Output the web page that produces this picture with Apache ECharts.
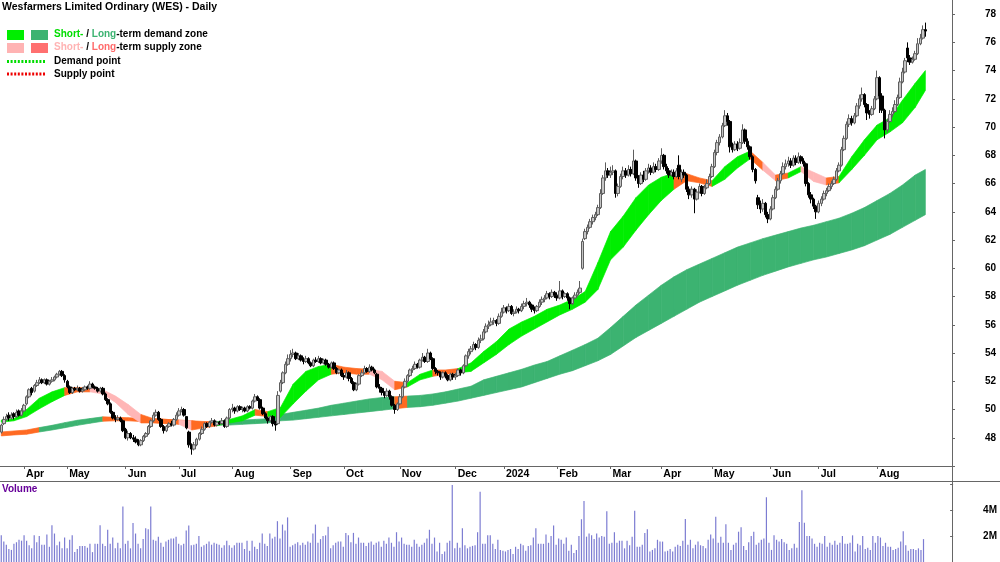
<!DOCTYPE html>
<html><head><meta charset="utf-8">
<script src="https://cdn.jsdelivr.net/npm/echarts@6/dist/echarts.min.js"></script>
<style>html,body{margin:0;padding:0;background:#fff}#c{width:1000px;height:562px}</style>
</head><body><div id="c"></div>
<script>
// ---------- DATA ----------
const startDay = [2023, 3, 21];
const endDay = [2024, 8, 27];
const holidays = ['2023-04-07','2023-04-10','2023-04-25','2023-06-12','2023-12-25','2023-12-26','2024-01-01','2024-01-26','2024-03-29','2024-04-01','2024-04-25','2024-06-10'];
const padSlots = 11;
const monthNames = ['Jan','Feb','Mar','Apr','May','Jun','Jul','Aug','Sep','Oct','Nov','Dec'];
const priceTicks = [48,50,52,54,56,58,60,62,64,66,68,70,72,74,76,78];
const volumeTicks = [2,4];

// [open, close, low, high]
const candles = [
[48.4,48.9,48.3,49.0],[49.0,49.3,48.9,49.5],[49.3,49.5,49.2,49.7],[49.6,49.4,49.2,49.8],[49.4,49.6,49.3,49.8],[49.7,49.5,49.3,49.8],[49.5,49.8,49.4,50.0],[49.9,49.6,49.5,50.0],[49.6,49.9,49.5,50.1],
[49.9,50.3,49.8,50.4],[50.4,50.9,50.3,51.0],[50.9,51.4,50.8,51.5],[51.5,51.2,51.0,51.6],[51.3,51.7,51.2,51.8],[51.7,51.9,51.6,52.1],[51.9,52.1,51.8,52.3],[52.1,51.9,51.8,52.2],[51.9,52.1,51.8,52.2],[52.1,51.8,51.7,52.2],[51.8,52.0,51.7,52.1],[52.0,52.1,51.9,52.3],[52.1,52.3,52.0,52.4],[52.3,52.5,52.2,52.6],[52.5,52.7,52.4,52.8],[52.7,52.4,52.3,52.8],[52.4,52.1,51.9,52.5],
[52.0,51.6,51.5,52.1],[51.6,51.2,51.1,51.7],[51.2,51.5,51.1,51.6],[51.5,51.4,51.3,51.6],[51.4,51.5,51.3,51.7],[51.5,51.3,51.2,51.6],[51.3,51.4,51.2,51.6],[51.4,51.6,51.3,51.7],[51.6,51.5,51.4,51.7],[51.5,51.8,51.4,52.0],[51.8,51.6,51.5,51.9],[51.6,51.5,51.4,51.7],[51.5,51.3,51.2,51.6],[51.3,51.5,51.2,51.6],[51.5,51.1,51.0,51.6],[51.1,50.7,50.6,51.2],[50.7,50.4,50.3,50.8],[50.4,49.8,49.7,50.5],[49.8,49.4,49.3,49.9],[49.4,49.3,49.1,49.6],[49.3,49.4,49.2,49.6],[49.4,49.2,49.1,49.5],[49.2,48.5,48.4,49.3],
[48.6,48.0,47.9,48.7],[48.0,48.3,47.8,48.5],[48.3,48.0,47.9,48.4],[48.0,47.9,47.7,48.2],[47.9,47.7,47.6,48.1],[47.7,47.5,47.4,47.9],[47.5,47.8,47.4,47.9],[47.8,48.1,47.7,48.2],[48.1,48.3,48.0,48.4],[48.3,48.8,48.2,48.9],[48.8,49.2,48.7,49.3],[49.2,49.6,49.1,49.8],[49.6,49.8,49.5,50.0],[49.8,49.3,49.2,49.9],[49.3,48.8,48.7,49.4],[48.8,48.5,48.3,48.9],[48.5,48.8,48.4,48.9],[48.8,49.0,48.7,49.1],[49.0,48.9,48.8,49.2],[48.9,49.3,48.8,49.4],[49.3,49.6,49.2,49.8],
[49.6,49.9,49.5,50.1],[49.9,50.0,49.8,50.2],[50.0,49.6,49.5,50.1],[49.5,48.7,48.6,49.5],[48.4,47.5,47.3,48.5],[47.5,47.2,46.8,47.6],[47.2,47.5,47.1,47.7],[47.5,47.9,47.4,48.0],[47.9,48.3,47.8,48.4],[48.3,48.6,48.2,48.8],[48.6,49.0,48.5,49.1],[49.0,48.8,48.7,49.1],[48.8,49.1,48.7,49.2],[49.1,49.2,49.0,49.4],[49.2,48.9,48.8,49.3],[48.9,49.1,48.8,49.2],[49.1,49.0,48.9,49.2],[49.0,49.2,48.9,49.4],[49.2,48.8,48.7,49.3],[48.8,49.4,48.7,49.5],[49.4,50.0,49.3,50.1],
[50.0,50.1,49.8,50.4],[50.1,49.9,49.7,50.2],[49.9,50.2,49.8,50.3],[50.2,50.0,49.9,50.3],[50.0,50.1,49.8,50.2],[50.1,49.9,49.8,50.2],[49.9,50.2,49.8,50.3],[50.2,50.1,50.0,50.3],[50.1,50.6,50.0,50.7],[50.6,50.9,50.5,51.1],[50.9,50.7,50.6,51.0],[50.7,50.1,50.0,50.8],[50.1,49.7,49.6,50.2],[49.7,49.4,49.3,49.8],[49.4,49.2,49.0,49.5],[49.2,49.5,49.1,49.6],[49.5,49.0,48.8,49.6],[49.0,48.9,48.5,49.2],[49.0,51.0,48.9,51.3],[51.3,51.9,51.2,52.1],[51.9,52.6,51.8,52.7],[52.6,53.2,52.5,53.4],[53.2,53.6,53.1,53.9],
[53.6,53.9,53.4,54.2],[53.9,54.0,53.7,54.3],[54.0,53.6,53.5,54.1],[53.6,53.8,53.5,54.0],[53.8,53.5,53.4,53.9],[53.5,53.4,53.2,53.7],[53.4,53.6,53.3,53.8],[53.6,53.3,53.2,53.7],[53.3,53.1,53.0,53.4],[53.1,53.5,53.0,53.6],[53.5,53.4,53.3,53.7],[53.4,53.6,53.3,53.8],[53.6,53.3,53.2,53.7],[53.3,53.5,53.2,53.6],[53.5,53.2,53.1,53.6],[53.2,53.0,52.9,53.3],[53.0,53.3,52.9,53.4],[53.3,52.9,52.8,53.4],[52.9,52.6,52.5,53.0],[52.6,52.8,52.5,52.9],[52.8,52.4,52.3,52.9],
[52.4,52.3,52.1,52.6],[52.3,52.6,52.2,52.8],[52.6,52.2,52.0,52.7],[52.2,51.9,51.8,52.3],[51.9,51.4,51.3,52.0],[51.4,51.8,51.3,51.9],[51.8,52.4,51.7,52.5],[52.4,52.6,52.3,52.8],[52.6,52.9,52.5,53.1],[52.9,52.7,52.6,53.0],[52.7,53.0,52.6,53.2],[53.0,52.8,52.7,53.1],[52.8,52.6,52.5,52.9],[52.5,51.6,51.5,52.6],[51.6,51.5,51.2,51.8],[51.5,51.2,51.0,51.6],[51.2,51.0,50.8,51.3],[51.0,51.3,50.9,51.5],[51.3,50.9,50.7,51.4],[50.9,50.3,50.2,51.0],[50.3,50.0,49.7,50.4],[50.0,50.4,49.9,50.5],
[50.4,50.9,50.3,51.1],[50.9,51.6,50.8,51.7],[51.6,52.0,51.5,52.2],[52.0,52.4,51.9,52.5],[52.4,52.8,52.3,52.9],[52.8,52.9,52.6,53.1],[52.9,53.2,52.8,53.4],[53.2,53.0,52.9,53.3],[53.0,53.5,52.9,53.6],[53.5,53.7,53.4,54.0],[53.7,53.4,53.3,53.8],[53.4,54.0,53.3,54.3],[54.0,53.6,53.5,54.1],[53.6,52.9,52.8,53.7],[52.9,52.7,52.5,53.0],[52.7,52.6,52.4,52.8],[52.6,52.3,52.1,52.7],[52.3,52.6,52.2,52.7],[52.6,52.4,52.2,52.7],[52.4,52.1,52.0,52.5],[52.1,52.5,52.0,52.6],[52.5,52.3,52.1,52.6],
[52.3,52.4,52.1,52.6],[52.4,52.8,52.3,52.9],[52.8,52.6,52.4,52.9],[52.6,53.1,52.5,53.2],[53.1,53.8,53.0,53.9],[53.8,54.1,53.6,54.3],[54.1,54.3,53.9,54.5],[54.3,54.6,54.2,54.8],[54.6,54.4,54.2,54.7],[54.4,54.9,54.3,55.1],[54.9,55.0,54.7,55.3],[55.0,55.5,54.9,55.7],[55.5,55.9,55.4,56.1],[55.9,56.0,55.7,56.3],[56.0,56.2,55.9,56.5],[56.2,56.3,56.0,56.5],[56.3,56.1,55.9,56.4],[56.1,56.6,56.0,56.8],[56.6,56.9,56.5,57.2],
[56.9,57.2,56.8,57.4],[57.2,57.0,56.8,57.3],[57.0,57.3,56.9,57.5],[57.3,56.8,56.7,57.4],[56.8,56.9,56.6,57.1],[56.9,57.1,56.8,57.3],[57.1,57.0,56.8,57.2],[57.0,57.3,56.9,57.5],[57.3,57.5,57.1,57.7],[57.5,57.6,57.3,57.9],[57.6,57.4,57.2,57.7],[57.4,57.1,56.9,57.5],[57.1,57.0,56.8,57.3],[57.0,57.3,56.9,57.4],[57.3,57.6,57.2,57.8],[57.6,57.8,57.4,58.0],[57.8,57.9,57.6,58.1],[57.9,58.2,57.8,58.4],[58.2,58.0,57.8,58.3],[58.0,58.3,57.9,58.5],[58.3,58.1,57.9,58.4],[58.1,57.9,57.7,58.3],
[57.9,58.4,57.8,59.1],[58.4,58.0,57.8,58.5],[58.0,58.2,57.9,58.3],[58.2,57.9,57.7,58.3],[57.9,57.5,57.1,58.0],[57.5,57.9,57.4,58.0],[57.9,58.1,57.8,58.3],[58.1,58.3,58.0,58.5],[58.3,58.6,58.2,59.1],[60.0,61.9,59.9,62.1],[62.1,62.6,62.0,62.8],[62.6,62.9,62.4,63.1],[62.9,63.3,62.8,63.5],[63.3,63.6,63.1,63.8],[63.6,63.8,63.4,64.0],[63.8,64.3,63.7,64.5],[64.3,65.3,64.2,65.6],[65.3,66.4,65.2,66.6],[66.4,66.9,66.2,67.5],[66.9,66.6,66.4,67.1],[66.6,66.8,66.4,67.2],
[66.8,66.9,66.6,67.3],[66.9,65.3,65.0,67.0],[65.3,65.8,65.1,66.0],[65.8,66.5,65.7,66.7],[66.5,66.9,66.3,67.2],[66.9,66.6,66.4,67.1],[66.6,67.0,66.5,67.3],[67.0,66.7,66.5,67.2],[66.7,67.6,66.6,68.4],[67.6,66.4,66.2,67.7],[66.4,66.0,65.7,66.6],[66.0,66.6,65.9,66.8],[66.6,66.3,66.1,66.9],[66.3,66.9,66.2,67.1],[66.9,67.1,66.7,67.4],[67.1,66.8,66.6,67.3],[66.8,67.2,66.7,67.5],[67.2,67.0,66.8,67.4],[67.0,67.6,66.9,67.8],[67.6,68.0,67.4,68.5],
[68.0,67.2,67.0,68.1],[67.2,66.9,66.7,67.4],[66.9,66.6,66.4,67.1],[66.6,66.8,66.5,67.0],[66.8,66.5,66.3,67.0],[66.5,66.9,66.4,67.1],[67.3,66.5,66.3,68.0],[66.3,66.8,66.1,67.0],[66.8,66.6,66.4,67.0],[66.6,65.6,65.4,66.7],[65.6,65.2,64.9,65.8],[65.2,65.6,65.0,65.8],[65.6,64.9,63.9,65.7],[64.9,65.4,64.8,65.6],[65.4,65.8,65.3,66.0],[65.8,65.3,65.1,65.9],[65.3,65.7,65.2,65.9],[65.7,66.0,65.6,66.3],[66.0,66.5,65.9,66.7],[66.5,67.2,66.4,67.4],
[67.2,68.2,67.1,68.4],[68.2,68.9,68.0,69.1],[68.9,69.3,68.7,69.5],[69.3,70.1,69.2,70.3],[70.1,70.8,70.0,71.2],[70.8,70.4,70.1,71.0],[70.4,68.6,68.2,70.5],[68.6,68.4,68.2,68.9],[68.4,68.8,68.3,69.0],[68.8,68.5,68.3,69.0],[68.5,68.9,68.4,69.2],[68.9,69.8,68.8,70.2],[69.8,69.0,68.8,69.9],[69.0,68.6,68.4,69.2],[68.6,67.9,67.7,68.7],[67.9,67.0,66.8,68.0],[67.0,66.2,66.0,67.1],[65.0,64.5,64.2,65.2],[64.5,64.2,63.9,64.8],[64.2,64.6,64.0,64.9],[64.6,63.8,63.6,64.7],[63.8,63.5,63.2,64.0],[63.5,64.2,63.4,64.4],
[64.2,65.0,64.1,65.2],[65.0,65.6,64.9,65.8],[65.6,66.2,65.5,66.4],[66.2,66.7,66.0,66.9],[66.7,67.2,66.6,67.5],[67.2,67.4,67.0,67.7],[67.4,67.6,67.2,67.9],[67.6,67.3,67.1,67.8],[67.3,67.8,67.2,68.0],[67.8,67.5,67.3,68.0],[67.5,67.9,67.4,68.2],[67.9,67.6,67.4,68.0],[67.6,67.4,67.2,67.8],[67.4,66.0,65.8,67.5],[66.0,65.2,65.0,66.1],[65.2,64.9,64.6,65.4],[64.9,64.4,64.2,65.0],[64.4,64.0,63.5,64.5],[64.0,64.6,63.9,64.8],
[64.6,64.9,64.4,65.1],[64.9,65.3,64.8,65.5],[65.3,65.5,65.1,65.7],[65.5,65.8,65.4,66.0],[65.8,66.0,65.6,66.2],[66.0,66.3,65.9,66.5],[66.3,66.9,66.2,67.1],[66.9,67.3,66.8,67.5],[67.3,68.4,67.2,68.6],[68.4,69.2,68.3,69.4],[69.2,70.2,69.1,70.4],[70.2,70.6,70.0,70.9],[70.6,70.3,70.1,70.8],[70.3,70.8,70.2,71.0],[70.8,71.5,70.7,71.7],[71.5,72.0,71.3,72.3],[72.0,72.3,71.8,72.8],[72.3,71.6,71.4,72.4],[71.6,71.0,70.5,71.7],[71.0,70.9,70.6,71.2],[70.9,71.3,70.8,71.5],[71.3,72.0,71.2,72.2],[72.0,73.5,71.9,74.0],
[73.5,72.2,71.0,73.6],[72.2,71.2,71.0,72.4],[71.2,69.8,69.2,71.3],[69.8,70.4,69.6,70.6],[70.4,70.9,70.3,71.2],[70.9,71.1,70.7,71.4],[71.1,71.6,71.0,71.9],[71.6,72.1,71.5,72.3],[72.1,73.2,72.0,73.5],[73.2,73.9,73.1,74.2],[73.9,74.7,73.8,74.9],[75.6,74.9,74.6,76.0],[74.9,74.6,74.4,75.1],[74.6,74.8,74.5,75.0],[74.8,75.2,74.7,75.4],[75.2,75.9,75.1,76.3],[75.9,76.3,75.8,76.6],[76.3,76.9,76.2,77.2],[76.9,76.8,76.4,77.4]
];

// daily volume, millions
const volumeM = [
2.05,1.57,1.33,1.0,0.93,1.4,1.52,1.71,1.64,2.05,1.64,1.29,1.05,2.05,1.52,2.0,1.33,1.33,2.12,1.17,
2.83,2.19,1.29,1.57,1.05,1.88,1.05,1.71,2.05,0.76,1.0,1.24,1.24,1.24,1.1,1.4,0.76,1.4,1.4,2.83,
1.4,1.24,2.48,1.4,1.88,1.05,1.48,1.05,4.26,1.4,1.64,1.05,3.0,2.19,1.4,1.05,1.76,2.6,2.52,4.26,
1.71,1.64,1.95,1.48,1.17,1.57,1.71,1.81,1.81,1.95,1.4,1.29,1.4,2.43,2.81,1.29,1.33,1.4,2.0,1.17,
1.29,1.4,1.57,1.33,1.48,1.4,1.33,1.1,1.29,1.64,1.29,1.1,1.29,1.48,1.48,1.48,1.0,1.64,0.86,1.64,
1.17,1.0,1.48,2.19,1.4,1.24,2.19,1.81,1.95,3.14,1.81,2.88,2.43,3.43,1.17,1.29,1.4,1.52,1.29,1.48,
1.33,1.57,1.48,2.19,2.88,1.48,1.76,2.0,2.05,2.71,1.05,1.29,1.48,1.57,1.57,1.17,2.24,2.05,1.52,2.24,
1.4,1.88,1.48,1.48,1.24,1.48,1.57,1.33,1.48,1.57,1.17,1.64,1.4,1.88,1.48,1.17,2.29,1.57,1.88,1.4,
1.33,1.33,1.17,1.71,1.4,1.17,1.33,1.48,1.81,2.48,1.4,1.88,0.81,1.48,0.62,0.81,1.48,1.64,5.93,
1.05,1.48,1.1,2.6,1.29,1.05,1.17,1.24,1.29,2.29,5.4,1.4,1.4,2.05,2.05,1.4,1.0,1.71,
0.93,0.86,0.81,0.93,1.0,0.62,1.17,1.0,1.4,1.29,0.86,1.24,1.29,1.88,2.6,1.4,1.4,1.4,2.12,1.48,
2.0,2.81,1.33,1.81,1.71,1.4,1.88,0.86,1.33,0.69,0.93,2.0,3.29,4.69,1.95,2.19,2.05,1.76,2.19,1.88,
2.0,1.95,3.9,1.4,1.48,2.29,1.48,1.64,1.64,1.05,1.64,1.29,1.95,3.95,1.17,1.17,1.33,2.24,2.52,
0.81,0.93,1.05,1.71,1.57,1.57,0.81,0.86,1.0,0.81,1.17,1.33,1.24,1.64,3.31,1.33,1.71,1.05,1.33,1.57,
1.29,1.24,1.05,1.71,2.12,1.81,3.48,1.48,1.95,1.48,2.9,1.48,0.93,1.33,1.48,2.33,2.67,1.24,0.93,1.52,
2.0,2.33,1.33,1.48,1.71,1.81,4.98,1.48,0.93,2.05,1.71,1.57,1.76,1.52,1.4,0.93,1.05,1.4,1.1,3.07,
5.52,3.02,2.0,2.0,1.81,1.4,1.17,1.48,1.4,2.0,1.17,1.48,1.33,1.64,1.33,1.48,2.0,1.4,1.4,1.48,
2.05,0.81,1.4,1.29,2.0,1.0,1.1,0.93,2.0,1.48,2.0,1.88,1.24,1.48,1.17,1.17,0.93,1.0,1.1,1.57,
2.36,1.29,0.86,1.0,1.0,0.93,1.05,0.93,1.76
];

// zone samples (trading-day index)
const bandIdx = [0,5,10,15,20,25,30,35,40,45,50,55,60,65,70,75,80,85,90,95,100,105,110,115,120,125,130,135,140,145,150,155,160,165,170,175,180,185,190,195,200,205,210,215,220,225,230,235,240,245,250,255,260,265,270,275,280,285,290,295,300,305,310,315,320,325,330,335,340,345,350,355,360,364];
const shortLo = [49.1,49.2,49.5,50.05,50.55,51.0,51.25,51.25,51.1,50.5,49.65,49.05,49.05,49.0,48.95,48.55,48.7,48.85,49.05,49.2,49.6,49.5,49.45,50.4,51.3,52.1,52.5,52.6,52.5,52.5,52.1,51.4,51.6,52.1,52.35,52.5,52.6,52.7,53.3,53.9,54.6,55.2,55.7,56.2,56.7,57.1,57.6,58.5,60.6,61.5,62.7,63.8,64.8,65.6,66.2,66.05,65.8,66.3,67.1,67.75,66.95,66.2,66.4,66.85,66.15,65.9,66.05,67.0,68.0,69.1,69.65,70.3,71.4,72.6];
const shortHi = [49.25,49.35,50.0,50.8,51.25,51.55,51.55,51.55,51.4,50.95,50.35,49.65,49.35,49.3,49.25,49.2,49.05,49.1,49.3,49.55,50.0,49.85,50.15,51.8,52.7,53.05,53.2,53.0,52.9,52.85,52.7,52.0,51.9,52.5,52.8,52.8,52.9,53.3,54.1,54.8,55.7,56.2,56.6,57.1,57.4,57.8,58.35,60.4,62.6,63.7,65.0,65.9,66.45,66.75,66.7,66.4,66.2,67.2,67.9,68.3,67.5,66.6,66.75,67.2,66.8,66.4,66.5,67.9,69.1,70.15,70.65,71.9,73.1,74.0];
// zone colour of the stretch ending at each sample: G demand, O supply (thin), P supply (pink)
const shortCol = ['G','G','G','G','G','G','O','O','P','P','P','P','O','O','O','P','O','O','G','G','G','O','G','G','G','G','G','O','O','O','P','P','O','G','G','O','O','G','G','G','G','G','G','G','G','G','G','G','G','G','G','G','G','G','O','O','O','G','G','G','O','P','O','G','P','P','O','G','G','G','G','G','G','G'];
const longLo = [48.13,48.2,48.25,48.41,48.55,48.71,48.88,49.03,49.17,49.2,49.2,49.15,49.1,49.05,49.0,48.95,48.9,48.9,48.9,48.95,49.0,49.05,49.2,49.25,49.35,49.45,49.55,49.65,49.75,49.85,49.95,50.05,50.15,50.2,50.3,50.45,50.6,50.8,51.0,51.2,51.4,51.6,51.9,52.2,52.5,52.75,53.1,53.45,53.9,54.5,55.1,55.6,56.1,56.6,57.1,57.6,58.0,58.4,58.8,59.15,59.5,59.8,60.1,60.35,60.6,60.8,61.05,61.3,61.6,62.0,62.4,62.9,63.4,63.8];
const longHi = [48.41,48.48,48.55,48.72,48.88,49.07,49.24,49.36,49.48,49.45,49.42,49.38,49.35,49.3,49.25,49.2,49.15,49.15,49.2,49.25,49.3,49.35,49.65,49.8,49.95,50.1,50.3,50.45,50.6,50.75,50.85,50.9,50.95,51.0,51.1,51.25,51.45,51.65,52.1,52.35,52.6,52.85,53.15,53.4,53.8,54.2,54.6,55.05,55.8,56.6,57.4,58.1,58.8,59.4,59.9,60.3,60.7,61.1,61.5,61.8,62.1,62.35,62.6,62.85,63.05,63.3,63.55,63.9,64.3,64.8,65.3,65.9,66.6,67.0];
// D demand (dark green), S supply (orange)
const longCol = ['S','S','S','S','D','D','D','D','D','S','S','S','S','S','S','S','S','S','D','D','D','D','D','D','D','D','D','D','D','D','D','D','S','D','D','D','D','D','D','D','D','D','D','D','D','D','D','D','D','D','D','D','D','D','D','D','D','D','D','D','D','D','D','D','D','D','D','D','D','D','D','D','D','D'];

// ---------- BUILD ----------
const zoneColors = {G:'#00ee00', O:'#ff6a22', P:'#ffb6b6', D:'#3cb371', S:'#ff6a22'};
const dates = [];
{
  let t = Date.UTC(startDay[0], startDay[1]-1, startDay[2]);
  const tEnd = Date.UTC(endDay[0], endDay[1]-1, endDay[2]);
  while (t <= tEnd) {
    const d = new Date(t); const wd = d.getUTCDay(); const s = d.toISOString().slice(0,10);
    if (wd !== 0 && wd !== 6 && holidays.indexOf(s) < 0) dates.push(s);
    t += 86400000;
  }
}
const cats = dates.slice();
for (let i = 0; i < padSlots; i++) cats.push('pad' + i);
const isMonthStart = i => i > 0 && i < dates.length && dates[i].slice(0,7) !== dates[i-1].slice(0,7);
const monthLabel = i => { const m = +dates[i].slice(5,7); return m === 1 ? dates[i].slice(0,4) : monthNames[m-1]; };

function bandData(lo, hi) {
  const out = [];
  for (let k = 0; k < bandIdx.length - 1; k++) out.push([bandIdx[k], lo[k], hi[k], bandIdx[k+1], lo[k+1], hi[k+1]]);
  return out;
}
function bandRender(cols) {
  return function (params, api) {
    const a = api.coord([api.value(0), api.value(1)]);
    const b = api.coord([api.value(3), api.value(4)]);
    const c = api.coord([api.value(3), api.value(5)]);
    const d = api.coord([api.value(0), api.value(2)]);
    const col = zoneColors[cols[params.dataIndex + 1]];
    return {type:'polygon', shape:{points:[a,b,c,d]}, style:{fill:col, stroke:col, lineWidth:0.7}};
  };
}

const FONT = 'Arial, "Liberation Sans", sans-serif';
const chart = echarts.init(document.getElementById('c'), null, {renderer:'canvas'});
chart.setOption({
  animation: false,
  backgroundColor: '#ffffff',
  grid: [
    {left: 0, top: 0, width: 952, height: 466},
    {left: 0, top: 481, width: 952, height: 86}
  ],
  xAxis: [
    {type:'category', gridIndex:0, data:cats, boundaryGap:true,
     axisLine:{show:true, lineStyle:{color:'#666', width:1}},
     axisTick:{show:true, alignWithLabel:true, length:3, interval:(i)=>isMonthStart(i), lineStyle:{color:'#666'}},
     axisLabel:{show:true, interval:(i)=>isMonthStart(i), formatter:(v,i)=>isMonthStart(i)?monthLabel(i):'', align:'left', margin:3,
       color:'#000', fontWeight:'bold', fontSize:10.5, fontFamily:FONT, padding:[0,0,0,2]},
     splitLine:{show:false}},
    {type:'category', gridIndex:1, data:cats, boundaryGap:true, axisLine:{show:false}, axisTick:{show:false}, axisLabel:{show:false}, splitLine:{show:false}}
  ],
  yAxis: [
    {type:'value', gridIndex:0, position:'right', min:46, max:79, interval:2, scale:true,
     axisLine:{show:false},
     axisTick:{show:true, length:3, lineStyle:{color:'#666'}},
     axisLabel:{margin:33, color:'#000', fontWeight:'bold', fontSize:10, fontFamily:FONT, showMaxLabel:false,
       formatter:v => priceTicks.indexOf(v) >= 0 ? String(v) : ''},
     splitLine:{show:false}},
    {type:'value', gridIndex:1, position:'right', min:0, max:6.23, interval:2,
     axisLine:{show:false},
     axisTick:{show:true, length:3, lineStyle:{color:'#666'}},
     axisLabel:{margin:33, color:'#000', fontWeight:'bold', fontSize:10, fontFamily:FONT, showMaxLabel:false,
       formatter:v => volumeTicks.indexOf(v) >= 0 ? v + 'M' : ''},
     splitLine:{show:false}}
  ],
  series: [
    {type:'custom', name:'long', xAxisIndex:0, yAxisIndex:0, z:1, clip:true,
     encode:{x:[0,3], y:[1,2,4,5]}, data:bandData(longLo, longHi), renderItem:bandRender(longCol), silent:true},
    {type:'custom', name:'short', xAxisIndex:0, yAxisIndex:0, z:2, clip:true,
     encode:{x:[0,3], y:[1,2,4,5]}, data:bandData(shortLo, shortHi), renderItem:bandRender(shortCol), silent:true},
    {type:'candlestick', xAxisIndex:0, yAxisIndex:0, z:3, data:candles, barWidth:3,
     itemStyle:{color:'#c4c4c4', color0:'#000000', borderColor:'#5e5e5e', borderColor0:'#000000', borderWidth:1}},
    {type:'bar', xAxisIndex:1, yAxisIndex:1, data:volumeM, barWidth:1.2, itemStyle:{color:'#7c7cd2'}, silent:true}
  ],
  graphic: [
    {type:'line', shape:{x1:0, y1:481.5, x2:1000, y2:481.5}, style:{stroke:'#666', lineWidth:1}, z:10},
    {type:'line', shape:{x1:952.5, y1:0, x2:952.5, y2:562}, style:{stroke:'#666', lineWidth:1}, z:10},
    {type:'text', left:2, top:2, z:10, style:{text:'Wesfarmers Limited Ordinary (WES) - Daily', font:'bold 10.5px ' + FONT, fill:'#000'}},
    {type:'rect', shape:{x:7, y:30, width:17, height:10}, style:{fill:'#00ee00'}, z:10},
    {type:'rect', shape:{x:31, y:30, width:17, height:10}, style:{fill:'#3cb371'}, z:10},
    {type:'rect', shape:{x:7, y:43, width:17, height:10}, style:{fill:'#ffb3b3'}, z:10},
    {type:'rect', shape:{x:31, y:43, width:17, height:10}, style:{fill:'#ff7070'}, z:10},
    {type:'text', left:54, top:29.5, z:10, style:{text:'{g|Short-} / {d|Long}-term demand zone', font:'bold 10px ' + FONT, fill:'#000',
      rich:{g:{fill:'#00dd00', font:'bold 10px ' + FONT}, d:{fill:'#3cb371', font:'bold 10px ' + FONT}}}},
    {type:'text', left:54, top:42.5, z:10, style:{text:'{p|Short-} / {s|Long}-term supply zone', font:'bold 10px ' + FONT, fill:'#000',
      rich:{p:{fill:'#ffb3b3', font:'bold 10px ' + FONT}, s:{fill:'#ff6b6b', font:'bold 10px ' + FONT}}}},
    {type:'line', shape:{x1:7, y1:61.5, x2:45, y2:61.5}, style:{stroke:'#00dd00', lineWidth:3, lineDash:[2,1.6]}, z:10},
    {type:'line', shape:{x1:7, y1:74, x2:45, y2:74}, style:{stroke:'#ee0000', lineWidth:3, lineDash:[2,1.6]}, z:10},
    {type:'text', left:54, top:56.5, z:10, style:{text:'Demand point', font:'bold 10px ' + FONT, fill:'#000'}},
    {type:'text', left:54, top:69, z:10, style:{text:'Supply point', font:'bold 10px ' + FONT, fill:'#000'}},
    {type:'text', left:2, top:484, z:10, style:{text:'Volume', font:'bold 10px ' + FONT, fill:'#660099'}}
  ]
});
</script>
</body></html>
